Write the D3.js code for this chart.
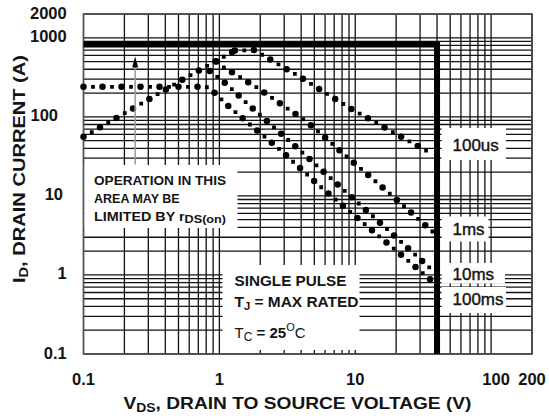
<!DOCTYPE html>
<html>
<head>
<meta charset="utf-8">
<script src="https://cdn.jsdelivr.net/npm/d3@7"></script>
<style>
body { margin: 0; background: #fff; }
text { font-family: "Liberation Sans", Arial, sans-serif; fill: #141414; }
</style>
</head>
<body>
<svg id="chart" width="549" height="419"></svg>
<script>
// tick labels
var xTickLabels = [0.1, 1, 10, 100, 200];
var yTickLabels = [0.1, 1, 10, 100, 1000, 2000];

// curves (V, A)
var rdsonLimit = [[0.1, 56], [0.21, 116], [0.6, 330], [0.93, 500], [1.3, 690]];
var pulse100us = [[1.3, 690], [1.8, 700], [3.8, 330], [9.4, 125], [26.7, 46], [38, 33]];
var pulse1ms = [[0.95, 500], [1.06, 431], [1.93, 230], [4.51, 84], [8.73, 31], [17, 11.6], [38, 3.4]];
var pulse10ms = [[0.85, 380], [1.15, 253], [1.48, 167], [2.2, 91], [3.7, 41], [5.5, 22.3], [15.4, 4.5], [38, 1.1]];
var pulse100ms = [[0.1, 240], [0.8, 240], [0.93, 199], [1.18, 134], [1.77, 74], [2.63, 42], [5.72, 12.5], [38, 0.8]];

// package limits: current 820 A, voltage 40 V
var ratingLimit = [[0.1, 820], [40, 820], [40, 0.1]];
var arrowLine = [[0.24, 25], [0.24, 580]];

// right hand labels and the current where each one sits
var curveLabels = ["100us", "1ms", "10ms", "100ms"];
var curveLabelAt = [44, 3.8, 1.01, 0.49];

var svg = d3.select('#chart');
var plotLeft = 83.5, plotRight = 532, plotTop = 14, plotBottom = 354;

var x = d3.scaleLog().domain([0.1, 200]).range([plotLeft, plotRight]);
var y = d3.scaleLog().domain([0.1, 2000]).range([plotBottom, plotTop]);

//grid lines at every 1..9 of each decade
var xGrid = [], yGrid = [];
[0.1, 1, 10, 100].forEach(function(d){
  for (var k = 1; k < 10; k++) {
    if (d * k <= 200) xGrid.push(d * k);
  }
});
xGrid.push(200);
[0.1, 1, 10, 100, 1000].forEach(function(d){
  for (var k = 1; k < 10; k++) {
    if (d * k <= 2000) yGrid.push(d * k);
  }
});

var grid = svg.append('g');
grid.selectAll('.vg').data(xGrid).enter().append('line')
  .attr('x1', function(d){ return x(d); }).attr('x2', function(d){ return x(d); })
  .attr('y1', plotTop).attr('y2', plotBottom)
  .attr('stroke', '#111').attr('stroke-width', 1.3);
grid.selectAll('.hg').data(yGrid).enter().append('line')
  .attr('y1', function(d){ return y(d); }).attr('y2', function(d){ return y(d); })
  .attr('x1', plotLeft).attr('x2', plotRight)
  .attr('stroke', '#111').attr('stroke-width', 1.3);

// white boxes behind the notes (the grid is cut out there)
var masks = [
  [84.2, 165, 153.3, 63],
  [222.5, 265, 137, 85],
  [441.5, 128, 64.5, 32],
  [441.5, 216.5, 47, 25],
  [441.5, 263, 63.5, 20.5],
  [441.5, 287, 64.5, 26]
];
svg.selectAll('.mask').data(masks).enter().append('rect')
  .attr('x', function(d){ return d[0]; }).attr('y', function(d){ return d[1]; })
  .attr('width', function(d){ return d[2]; }).attr('height', function(d){ return d[3]; })
  .attr('fill', '#fff');

// frame
svg.append('rect').attr('x', plotLeft).attr('y', plotTop)
  .attr('width', plotRight - plotLeft).attr('height', plotBottom - plotTop)
  .attr('fill', 'none').attr('stroke', '#555').attr('stroke-width', 1.5);

var line = d3.line().x(function(d){ return x(d[0]); }).y(function(d){ return y(d[1]); });

// thick rating limit
svg.append('path').attr('d', line(ratingLimit))
  .attr('fill', 'none').attr('stroke', '#000').attr('stroke-width', 6)
  .attr('stroke-linejoin', 'miter');

//dotted curves: alternating big round dots and small squares
function dotted(data) {
  var p = line(data);
  svg.append('path').attr('d', p).attr('fill', 'none')
    .attr('stroke', '#000').attr('stroke-width', 6.5)
    .attr('stroke-linecap', 'round').attr('stroke-dasharray', '0 19');
  svg.append('path').attr('d', p).attr('fill', 'none')
    .attr('stroke', '#000').attr('stroke-width', 3.8)
    .attr('stroke-linecap', 'square').attr('stroke-dasharray', '0 19')
    .attr('stroke-dashoffset', -9.5);
}
dotted(rdsonLimit);
dotted(pulse100us);
dotted(pulse1ms);
dotted(pulse10ms);
dotted(pulse100ms);

// arrow
svg.append('line')
  .attr('x1', x(arrowLine[0][0])).attr('y1', y(arrowLine[0][1]))
  .attr('x2', x(arrowLine[1][0])).attr('y2', y(arrowLine[1][1]) + 10)
  .attr('stroke', '#999').attr('stroke-width', 1.5);
svg.append('path')
  .attr('d', 'M' + (x(arrowLine[1][0]) - 3) + ',' + (y(arrowLine[1][1]) + 11) +
             'L' + x(arrowLine[1][0]) + ',' + y(arrowLine[1][1]) +
             'L' + (x(arrowLine[1][0]) + 3) + ',' + (y(arrowLine[1][1]) + 11) + 'Z')
  .attr('fill', '#000');

// tick labels (the originals are not all right aligned)
var yLabelRight = {2000: 66.7, 1000: 66.7, 100: 58, 10: 63, 1: 66.7, 0.1: 66.7};
svg.selectAll('.yl').data(yTickLabels).enter().append('text')
  .attr('x', function(d){ return yLabelRight[d]; }).attr('y', function(d){ return y(d) - 1.5; })
  .attr('text-anchor', 'end').attr('dominant-baseline', 'central')
  .attr('font-size', 16.5).attr('font-weight', 'bold')
  .text(function(d){ return d; });
svg.selectAll('.xl').data(xTickLabels).enter().append('text')
  .attr('x', function(d){ return x(d) + (d === 100 ? 5 : 0); }).attr('y', 385)
  .attr('text-anchor', 'middle')
  .attr('font-size', 16.5).attr('font-weight', 'bold')
  .text(function(d){ return d; });

// axis titles
var xt = svg.append('text').attr('x', 123.5).attr('y', 408.5)
  .attr('font-size', 16.5).attr('font-weight', 'bold')
  .attr('textLength', 348).attr('lengthAdjust', 'spacingAndGlyphs');
xt.append('tspan').text('V');
xt.append('tspan').attr('font-size', 12).attr('dy', 3).text('DS');
xt.append('tspan').attr('dy', -3).text(', DRAIN TO SOURCE VOLTAGE (V)');

var yt = svg.append('text').attr('transform', 'translate(25,283) rotate(-90)')
  .attr('font-size', 16.5).attr('font-weight', 'bold')
  .attr('textLength', 228).attr('lengthAdjust', 'spacingAndGlyphs');
yt.append('tspan').text('I');
yt.append('tspan').attr('font-size', 12).attr('dy', 3).text('D');
yt.append('tspan').attr('dy', -3).text(', DRAIN CURRENT (A)');

// note on rds(on)
var note = svg.append('g').attr('font-size', 12.5).attr('font-weight', 'bold');
note.append('text').attr('x', 94).attr('y', 185)
  .attr('textLength', 132).attr('lengthAdjust', 'spacingAndGlyphs').text('OPERATION IN THIS');
note.append('text').attr('x', 94).attr('y', 203).text('AREA MAY BE');
var lim = note.append('text').attr('x', 94).attr('y', 221)
  .attr('textLength', 132).attr('lengthAdjust', 'spacingAndGlyphs');
lim.append('tspan').text('LIMITED BY r');
lim.append('tspan').attr('font-size', 11).attr('dy', 1.5).text('DS(on)');

// pulse note
var sp = svg.append('g').attr('font-size', 15).attr('font-weight', 'bold');
sp.append('text').attr('x', 234.5).attr('y', 286)
  .attr('textLength', 112).attr('lengthAdjust', 'spacingAndGlyphs').text('SINGLE PULSE');
var tj = sp.append('text').attr('x', 234.5).attr('y', 306.5)
  .attr('textLength', 124).attr('lengthAdjust', 'spacingAndGlyphs');
tj.append('tspan').text('T');
tj.append('tspan').attr('font-size', 11).attr('dy', 3).text('J');
tj.append('tspan').attr('dy', -3).text(' = MAX RATED');
var tc = sp.append('text').attr('x', 234.5).attr('y', 338);
tc.append('tspan').attr('font-weight', 'normal').text('T');
tc.append('tspan').attr('font-weight', 'normal').attr('font-size', 12).attr('dy', 3).text('C');
tc.append('tspan').attr('dy', -3).text(' = 25');
tc.append('tspan').attr('font-weight', 'normal').attr('font-size', 11).attr('dy', -7).text('O');
tc.append('tspan').attr('font-weight', 'normal').attr('dy', 7).text('C');

// curve labels
svg.selectAll('.cl').data(curveLabels).enter().append('text')
  .attr('x', 452.5).attr('y', function(d, i){ return y(curveLabelAt[i]); })
  .attr('dominant-baseline', 'central')
  .attr('font-size', 17)
  .attr('stroke', '#141414').attr('stroke-width', 0.4)
  .text(function(d){ return d; });
</script>
</body>
</html>
